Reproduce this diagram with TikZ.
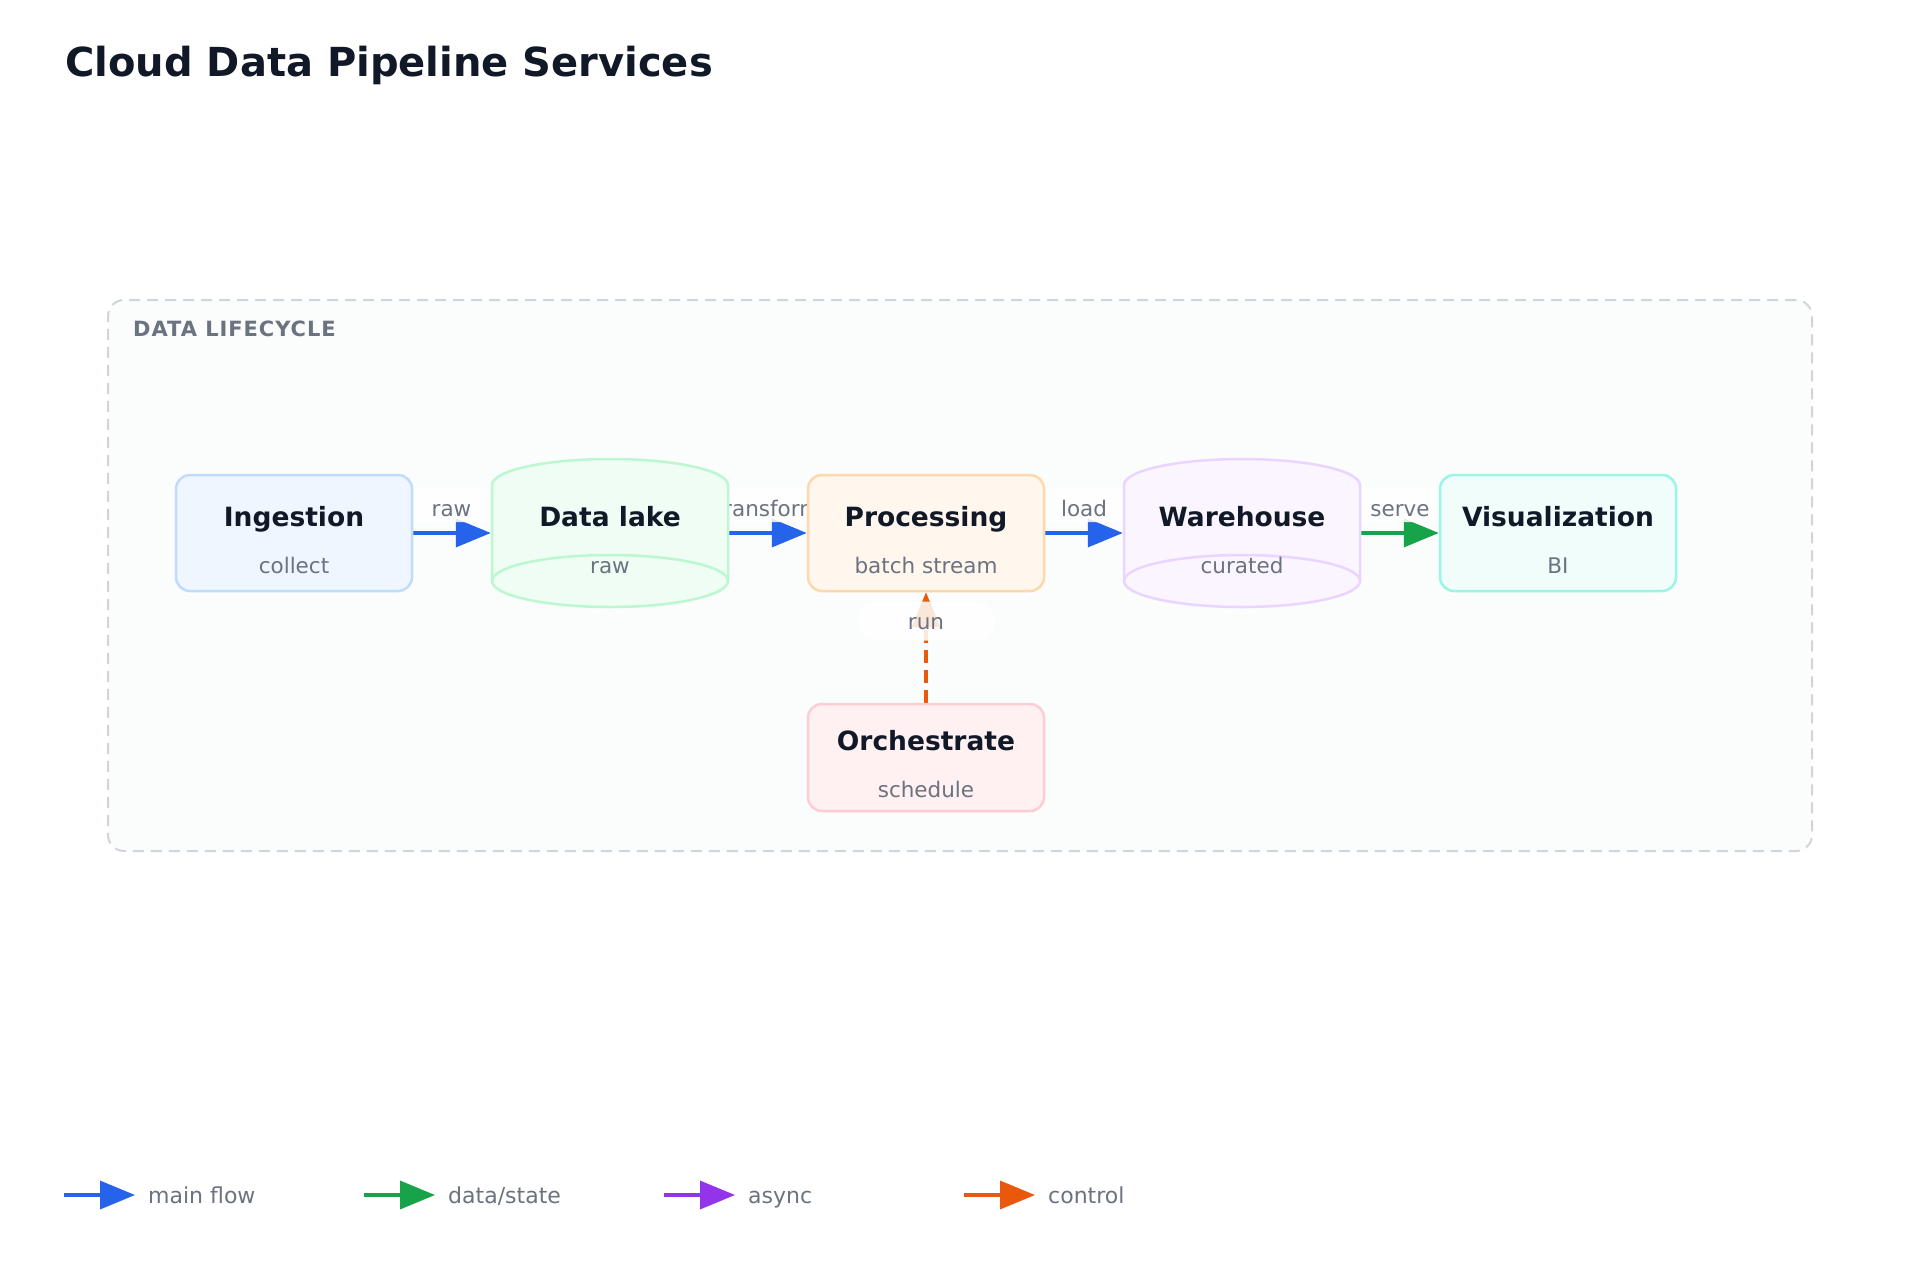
\documentclass[tikz,border=0pt]{standalone}
\usepackage{fontspec}
\setmainfont{DejaVu Sans}
\usetikzlibrary{arrows.meta}
\definecolor{ink}{HTML}{111827}
\definecolor{muted}{HTML}{6B7280}
\definecolor{frame}{HTML}{D1D5DB}
\definecolor{framefill}{HTML}{FBFCFC}
\definecolor{cblue}{HTML}{2563EB}
\definecolor{cgreen}{HTML}{16A34A}
\definecolor{cpurple}{HTML}{9333EA}
\definecolor{corange}{HTML}{EA580C}
\definecolor{ingfill}{HTML}{EFF6FF}\definecolor{ingline}{HTML}{BFDBFE}
\definecolor{lakefill}{HTML}{F0FDF4}\definecolor{lakeline}{HTML}{BBF7D0}
\definecolor{procfill}{HTML}{FFF7ED}\definecolor{procline}{HTML}{FED7AA}
\definecolor{whfill}{HTML}{FAF5FF}\definecolor{whline}{HTML}{E9D5FF}
\definecolor{visfill}{HTML}{F0FDFA}\definecolor{visline}{HTML}{99F6E4}
\definecolor{orchfill}{HTML}{FFF1F2}\definecolor{orchline}{HTML}{FECDD3}
\newcommand\drawcyl[3]{%
  \path[fill=#2, draw=#3, line width=2.5pt]
    (#1-118,-485) arc[start angle=180, end angle=0, x radius=118, y radius=26]
    -- (#1+118,-581) arc[start angle=0, end angle=-180, x radius=118, y radius=26] -- cycle;
  \draw[#3, line width=2.5pt]
    (#1+118,-581) arc[start angle=0, end angle=180, x radius=118, y radius=26];
}
\begin{document}
\begin{tikzpicture}[x=1pt,y=1pt,
  box/.style={draw, line width=2.5pt, rounded corners=14pt, minimum width=236pt, minimum height=116pt, inner sep=0pt},
  anchorbox/.style={draw=none, minimum width=236pt, minimum height=148pt, inner sep=0pt, outer sep=1.25pt},
  ttl/.style={font=\fontsize{26.5}{30}\selectfont\bfseries, text=ink, anchor=base, inner sep=0pt},
  sub/.style={font=\fontsize{21.5}{25}\selectfont, text=muted, anchor=base, inner sep=0pt},
  elab/.style={fill=white, fill opacity=0.85, text opacity=1, text=muted, rounded corners=17pt,
     minimum width=137pt, minimum height=34pt, inner sep=0pt, text height=22pt, text depth=0pt,
     font=\fontsize{21.5}{25}\selectfont},
  vlab/.style={elab, rounded corners=19pt, minimum height=39pt, text height=16pt},
  flow/.style={line width=3.5pt, -{Triangle[length=35pt,width=28pt]}},
  legtxt/.style={font=\fontsize{22}{25}\selectfont, text=muted, anchor=base west, inner sep=0pt}
]
\useasboundingbox (0,0) rectangle (1920,-1280);
\fill[white] (0,0) rectangle (1920,-1280);

% title
\node[font=\fontsize{40}{48}\selectfont\bfseries, text=ink, anchor=base west, inner sep=0pt] (title) at (65,-76) {Cloud Data Pipeline Services};

% container
\node[draw=frame, fill=framefill, line width=2pt, dash pattern=on 11pt off 7pt, rounded corners=16pt,
      minimum width=1704pt, minimum height=551pt, inner sep=0pt] (lifecycle) at (960,-575.5) {};
\node[font=\fontsize{21}{25}\selectfont\bfseries\addfontfeatures{LetterSpace=4.5}, text=muted, anchor=base west, inner sep=0pt] (lctitle) at (133,-336) {DATA LIFECYCLE};

% anchor shapes (positions)
\node[box, draw=none] (ing) at (294,-533) {};
\node[anchorbox] (lake) at (610,-533) {};
\node[box, draw=none] (proc) at (926,-533) {};
\node[anchorbox] (wh) at (1242,-533) {};
\node[box, draw=none] (vis) at (1558,-533) {};
\node[box, draw=none, minimum height=107pt] (orch) at (926,-757.5) {};

% connectors
\draw[flow, cblue] (ing.east) -- (lake.west);
\draw[flow, cblue] (lake.east) -- (proc.west);
\draw[flow, cblue] (proc.east) -- (wh.west);
\draw[flow, cgreen] (wh.east) -- (vis.west);
\draw[flow, corange, dash pattern=on 13pt off 7pt] (orch.north) -- (proc.south);

% connector labels
\node[elab] (lraw) at (451.5,-505) {raw};
\node[elab] (ltr) at (767.5,-505) {transform};
\node[elab] (lload) at (1084,-505) {load};
\node[elab] (lserve) at (1400,-505) {serve};
\node[vlab] (lrun) at (926,-621) {run};

% nodes
\node[box, fill=ingfill, draw=ingline] at (294,-533) {};
\drawcyl{610}{lakefill}{lakeline}
\node[box, fill=procfill, draw=procline] at (926,-533) {};
\drawcyl{1242}{whfill}{whline}
\node[box, fill=visfill, draw=visline] at (1558,-533) {};
\node[box, fill=orchfill, draw=orchline, minimum height=107pt] at (926,-757.5) {};

% node texts
\node[ttl] (ingt) at (294,-526) {Ingestion};
\node[sub] (ings) at (294,-573) {collect};
\node[ttl] (laket) at (610,-526) {Data lake};
\node[sub] (lakes) at (610,-573) {raw};
\node[ttl] (proct) at (926,-526) {Processing};
\node[sub] (procs) at (926,-573) {batch stream};
\node[ttl] (wht) at (1242,-526) {Warehouse};
\node[sub] (whs) at (1242,-573) {curated};
\node[ttl] (vist) at (1558,-526) {Visualization};
\node[sub] (viss) at (1558,-573) {BI};
\node[ttl] (orcht) at (926,-750) {Orchestrate};
\node[sub] (orchs) at (926,-797) {schedule};

% legend
\coordinate (la1) at (64,-1195);  \coordinate (lb1) at (135,-1195);
\coordinate (la2) at (364,-1195); \coordinate (lb2) at (435,-1195);
\coordinate (la3) at (664,-1195); \coordinate (lb3) at (735,-1195);
\coordinate (la4) at (964,-1195); \coordinate (lb4) at (1035,-1195);
\draw[flow, cblue] (la1) -- (lb1);
\draw[flow, cgreen] (la2) -- (lb2);
\draw[flow, cpurple] (la3) -- (lb3);
\draw[flow, corange] (la4) -- (lb4);
\node[legtxt] (lt1) at (148,-1203) {main flow};
\node[legtxt] (lt2) at (448,-1203) {data/state};
\node[legtxt] (lt3) at (748,-1203) {async};
\node[legtxt] (lt4) at (1048,-1203) {control};
\end{tikzpicture}
\end{document}
